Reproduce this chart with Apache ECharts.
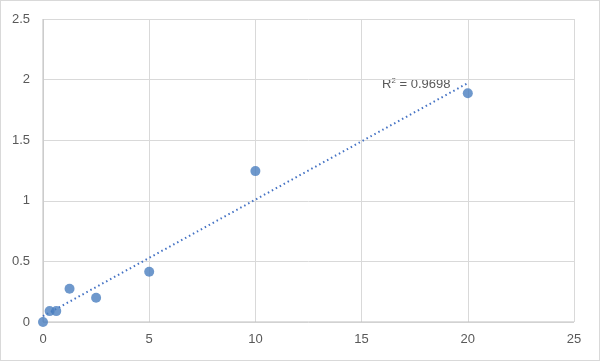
<!DOCTYPE html>
<html><head><meta charset="utf-8">
<script src="https://cdn.jsdelivr.net/npm/echarts@6/dist/echarts.min.js"></script>
<style>html,body{margin:0;padding:0;background:#fff}#c{width:600px;height:361px;box-sizing:border-box;border:1px solid #d9d9d9}</style>
</head><body><div id="c"></div>
<script>
const xValues = [0, 0.3125, 0.625, 1.25, 2.5, 5, 10, 20];
const yValues = [0, 0.09, 0.09, 0.275, 0.2, 0.415, 1.245, 1.887];
const xTicks = [0, 5, 10, 15, 20, 25];
const yTicks = [0, 0.5, 1, 1.5, 2, 2.5];
const r2Text = '0.9698';

const n = xValues.length;
const mx = xValues.reduce((a,b)=>a+b,0)/n, my = yValues.reduce((a,b)=>a+b,0)/n;
let sxy=0,sxx=0;
for(let i=0;i<n;i++){sxy+=(xValues[i]-mx)*(yValues[i]-my);sxx+=(xValues[i]-mx)**2;}
const slope=sxy/sxx, icpt=my-slope*mx;
const xMinData=Math.min(...xValues), xMaxData=Math.max(...xValues);
const trend=[[xMinData,icpt+slope*xMinData],[xMaxData,icpt+slope*xMaxData]];

const chart = echarts.init(document.getElementById('c'));
const lab = {color:'#595959',fontSize:13,fontFamily:'Liberation Sans, Arial, sans-serif'};
chart.setOption({
  animation:false,
  grid:{left:42,right:25,top:18,bottom:38},
  xAxis:{type:'value',min:xTicks[0],max:xTicks[xTicks.length-1],interval:5,
    axisLine:{show:false},axisTick:{show:false},
    splitLine:{lineStyle:{color:'#d9d9d9'}},
    axisLabel:Object.assign({margin:11},lab)},
  yAxis:{type:'value',min:yTicks[0],max:yTicks[yTicks.length-1],interval:0.5,
    axisLine:{show:false},axisTick:{show:false},
    splitLine:{lineStyle:{color:'#d9d9d9'}},
    axisLabel:Object.assign({margin:13},lab)},
  series:[
    {type:'line',data:[[0,0],[0,2.5]],symbol:'none',silent:true,lineStyle:{color:'#bfbfbf',width:1},z:1},
    {type:'line',data:[[0,0],[25,0]],symbol:'none',silent:true,lineStyle:{color:'#bfbfbf',width:1},z:1},
    {type:'line',data:trend,symbol:'none',lineStyle:{color:'#4472c4',width:2,type:[1.5,3]},z:2},
    {type:'scatter',data:xValues.map((x,i)=>[x,yValues[i]]),symbolSize:10,itemStyle:{color:'#4a7ebf'},z:3}
  ],
  graphic:[{type:'text',left:381,top:76,style:{
    text:'{a|R}{s|2}{a| = '+r2Text+'}',
    rich:{a:{fontSize:13,fill:'#595959',fontFamily:'Liberation Sans, Arial, sans-serif'},
          s:{fontSize:8,fill:'#595959',verticalAlign:'top',padding:[0,0,7,0],fontFamily:'Liberation Sans, Arial, sans-serif'}}}}]
});
</script></body></html>
